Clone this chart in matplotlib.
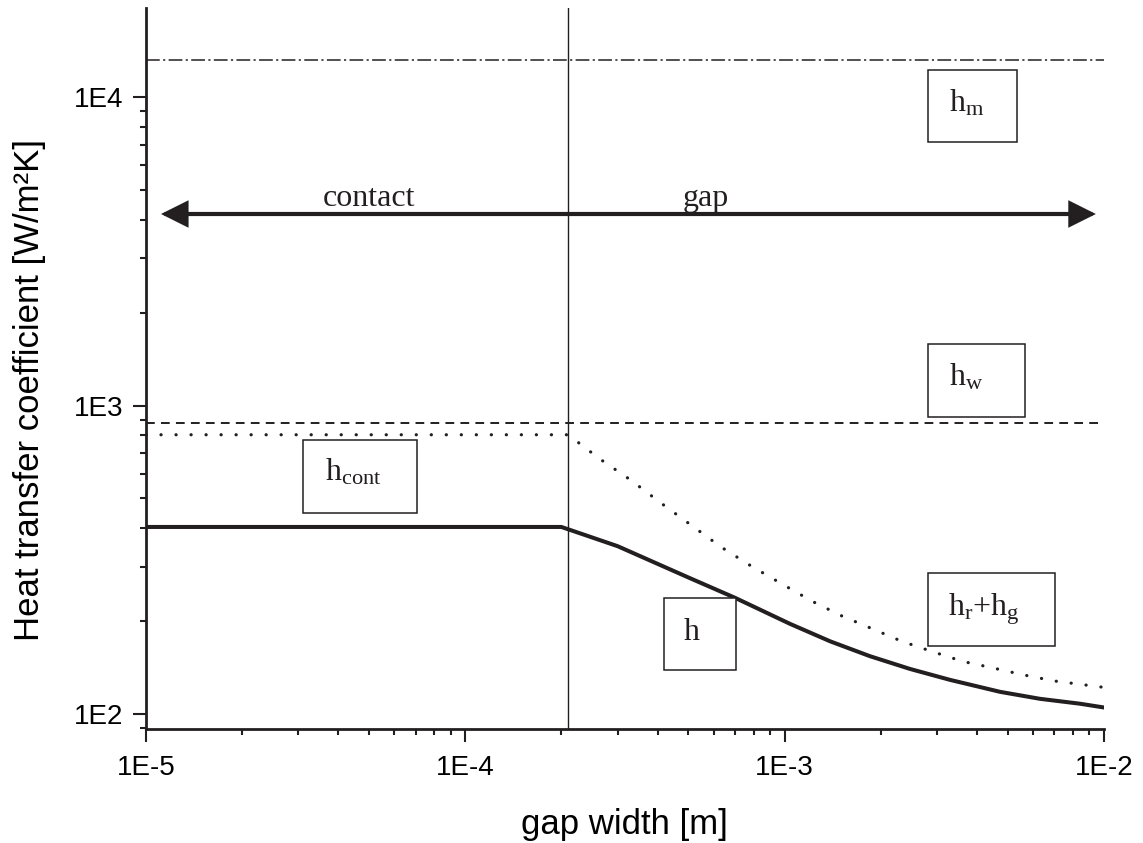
import numpy as np
import matplotlib
matplotlib.use("Agg")
import matplotlib.pyplot as plt
from matplotlib.patches import Rectangle, FancyArrowPatch, ArrowStyle
from matplotlib.ticker import LogLocator, NullFormatter, FuncFormatter

# values
gap_h = [1e-5, 2.0e-4, 3.0e-4, 5.0e-4, 7.0e-4, 1.04e-3, 1.39e-3, 1.85e-3,
         2.47e-3, 3.30e-3, 4.73e-3, 6.31e-3, 8.41e-3, 1e-2]
h_total = [404, 404, 350, 277, 238, 196, 172, 154, 140, 129, 118, 112, 108, 105]

gap_rg = [1e-5, 2.1e-4, 2.64e-4, 3.30e-4, 4.10e-4, 5.09e-4, 6.32e-4, 7.85e-4,
          9.81e-4, 1.22e-3, 1.51e-3, 1.88e-3, 2.33e-3, 2.92e-3, 3.62e-3,
          4.50e-3, 5.58e-3, 6.98e-3, 1e-2]
h_rg = [804, 804, 671, 573, 483, 410, 348, 302, 264, 232, 208, 189, 172,
        159, 148, 141, 134, 128, 122]

gap_range = [1e-5, 1e-2]
h_m = [13200, 13200]
h_w = [880, 880]
gap_contact_limit = 2.1e-4

ink = "#231f20"

fig = plt.figure(figsize=(11.43, 8.43), dpi=100)
ax = fig.add_axes([0.1277, 0.1352, 0.8381, 0.8553])

ax.plot(gap_range, h_m, color=ink, lw=1.1, dashes=(9, 2.2, 1.4, 2.2))
ax.plot(gap_range, h_w, color=ink, lw=1.4, dashes=(4.5, 3.2))
ax.plot(gap_rg, h_rg, color=ink, lw=2.3, dashes=(0.05, 4.65),
        dash_capstyle="round")
ax.plot(gap_h, h_total, color=ink, lw=2.9, solid_joinstyle="round")
ax.axvline(gap_contact_limit, color=ink, lw=1.0)

ax.set_xscale("log")
ax.set_yscale("log")
ax.set_xlim(1e-5, 1e-2)
ax.set_ylim(89.4, 19440)

for s in ["top", "right"]:
    ax.spines[s].set_visible(False)
for s in ["left", "bottom"]:
    ax.spines[s].set_linewidth(2.0)
    ax.spines[s].set_color(ink)

fmt = FuncFormatter(lambda v, p: "1E%d" % int(round(np.log10(v))))
for axis in [ax.xaxis, ax.yaxis]:
    axis.set_major_locator(LogLocator(base=10, numticks=10))
    axis.set_minor_locator(LogLocator(base=10, subs=np.arange(2, 10), numticks=50))
    axis.set_major_formatter(fmt)
    axis.set_minor_formatter(NullFormatter())

ax.tick_params(which="major", length=9.5, width=1.5, color=ink, pad=7,
               labelsize=20, labelfontfamily="Liberation Sans")
ax.tick_params(axis="x", which="major", pad=9)
ax.tick_params(which="minor", length=4.5, width=1.5, color=ink)

ax.set_xlabel("gap width [m]", fontsize=25, family="Liberation Sans")
ax.set_ylabel("Heat transfer coefficient [W/m²K]", fontsize=25,
              family="Liberation Sans")
ax.xaxis.set_label_coords(0.5, -0.109)
ax.yaxis.set_label_coords(-0.104, 0.47)

# double arrow with region names
arrow = FancyArrowPatch((0.0157, 0.7143), (0.9916, 0.7143),
                        transform=ax.transAxes,
                        arrowstyle=ArrowStyle("<|-|>", head_length=15, head_width=7.5),
                        mutation_scale=1, lw=3.0, color=ink,
                        shrinkA=0, shrinkB=0, joinstyle="miter")
ax.add_patch(arrow)
serif = "Liberation Serif"
ax.text(0.2328, 0.7254, "contact", transform=ax.transAxes, ha="center",
        va="baseline", fontsize=23, family=serif, color=ink)
ax.text(0.5846, 0.7254, "gap", transform=ax.transAxes, ha="center",
        va="baseline", fontsize=23, family=serif, color=ink)

# labelled boxes: (x, y, w, h) of box, then text anchor
boxes = [
    ((0.8163, 0.8141, 0.0929, 0.0999), (0.838, 0.8558), r"$\mathregular{h_{m}}$"),
    ((0.8163, 0.4327, 0.1013, 0.1012), (0.838, 0.4771), r"$\mathregular{h_{w}}$"),
    ((0.1639, 0.2996, 0.1190, 0.1012), (0.1868, 0.344), r"$\mathregular{h_{cont}}$"),
    ((0.5407, 0.0818, 0.0752, 0.0999), (0.5616, 0.1234), "h"),
    ((0.8163, 0.1151, 0.1326, 0.1012), (0.837, 0.158), r"$\mathregular{h_{r}{+}h_{g}}$"),
]
for (bx, by, bw, bh), (tx, ty), label in boxes:
    ax.add_patch(Rectangle((bx, by), bw, bh, transform=ax.transAxes,
                           facecolor="white", edgecolor=ink, lw=1.1, zorder=3))
    ax.text(tx, ty, label, transform=ax.transAxes, ha="left", va="baseline",
            fontsize=23, family=serif, color=ink, zorder=4)

fig.savefig("out.png", dpi=100)
